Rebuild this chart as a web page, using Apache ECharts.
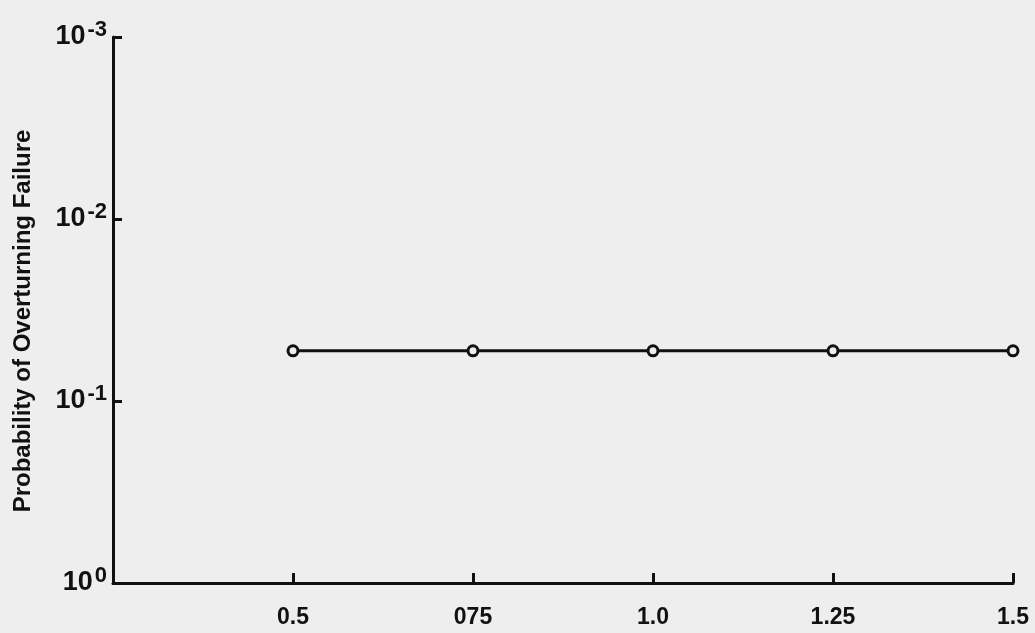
<!DOCTYPE html>
<html>
<head>
<meta charset="utf-8">
<script src="https://cdn.jsdelivr.net/npm/echarts@6/dist/echarts.min.js"></script>
<style>
  html, body { margin: 0; padding: 0; background: #eeeeee; }
  #chart { width: 1035px; height: 633px; }
</style>
</head>
<body>
<div id="chart"></div>
<script>
// data
const xValues = [0.5, 0.75, 1.0, 1.25, 1.5];
const xTickLabels = ['0.5', '075', '1.0', '1.25', '1.5'];
const probValues = [0.053, 0.053, 0.053, 0.053, 0.053];
const yTickExponents = ['-3', '-2', '-1', '0'];

const ink = '#111';
const chart = echarts.init(document.getElementById('chart'));

chart.setOption({
  backgroundColor: '#eeeeee',
  animation: false,
  grid: { left: 113, right: 22, top: 37, bottom: 50, outerBoundsMode: 'none', containLabel: false },
  xAxis: {
    type: 'value',
    min: 0.25,
    max: 1.5,
    interval: 0.25,
    splitLine: { show: false },
    axisLine: { lineStyle: { color: ink, width: 3 } },
    axisTick: { inside: true, length: 10, lineStyle: { color: ink, width: 3 } },
    axisLabel: {
      margin: 23,
      fontFamily: 'Liberation Sans',
      fontWeight: 'bold',
      fontSize: 23,
      color: ink,
      showMinLabel: false,
      formatter: v => {
        const i = xValues.findIndex(x => Math.abs(x - v) < 1e-6);
        return i >= 0 ? xTickLabels[i] : '';
      }
    }
  },
  yAxis: {
    type: 'log',
    logBase: 10,
    min: 0.001,
    max: 1,
    inverse: true,
    splitLine: { show: false },
    name: 'Probability of Overturning Failure',
    nameLocation: 'middle',
    nameRotate: 90,
    nameGap: 78,
    nameTextStyle: { fontFamily: 'Liberation Sans', fontWeight: 'bold', fontSize: 24, color: ink, padding: [0, 22, 0, 0] },
    axisLine: { lineStyle: { color: ink, width: 3 } },
    axisTick: { inside: true, length: 9, lineStyle: { color: ink, width: 3 } },
    axisLabel: {
      margin: 6,
      color: ink,
      formatter: v => {
        const e = Math.round(Math.log10(v));
        const s = yTickExponents.find(t => Number(t) === e) || String(e);
        return '{b|10}{s|' + s + '}';
      },
      rich: {
        b: { fontFamily: 'Liberation Sans', fontWeight: 'bold', fontSize: 27, lineHeight: 36, verticalAlign: 'middle', color: ink, padding: [0, 2, 0, 0] },
        s: { fontFamily: 'Liberation Sans', fontWeight: 'bold', fontSize: 22, lineHeight: 36, verticalAlign: 'top', color: ink }
      }
    }
  },
  series: [{
    type: 'line',
    data: xValues.map((x, i) => [x, probValues[i]]),
    symbol: 'circle',
    symbolSize: 10,
    lineStyle: { color: ink, width: 3 },
    itemStyle: { color: '#eeeeee', borderColor: ink, borderWidth: 3 }
  }]
});
</script>
</body>
</html>
